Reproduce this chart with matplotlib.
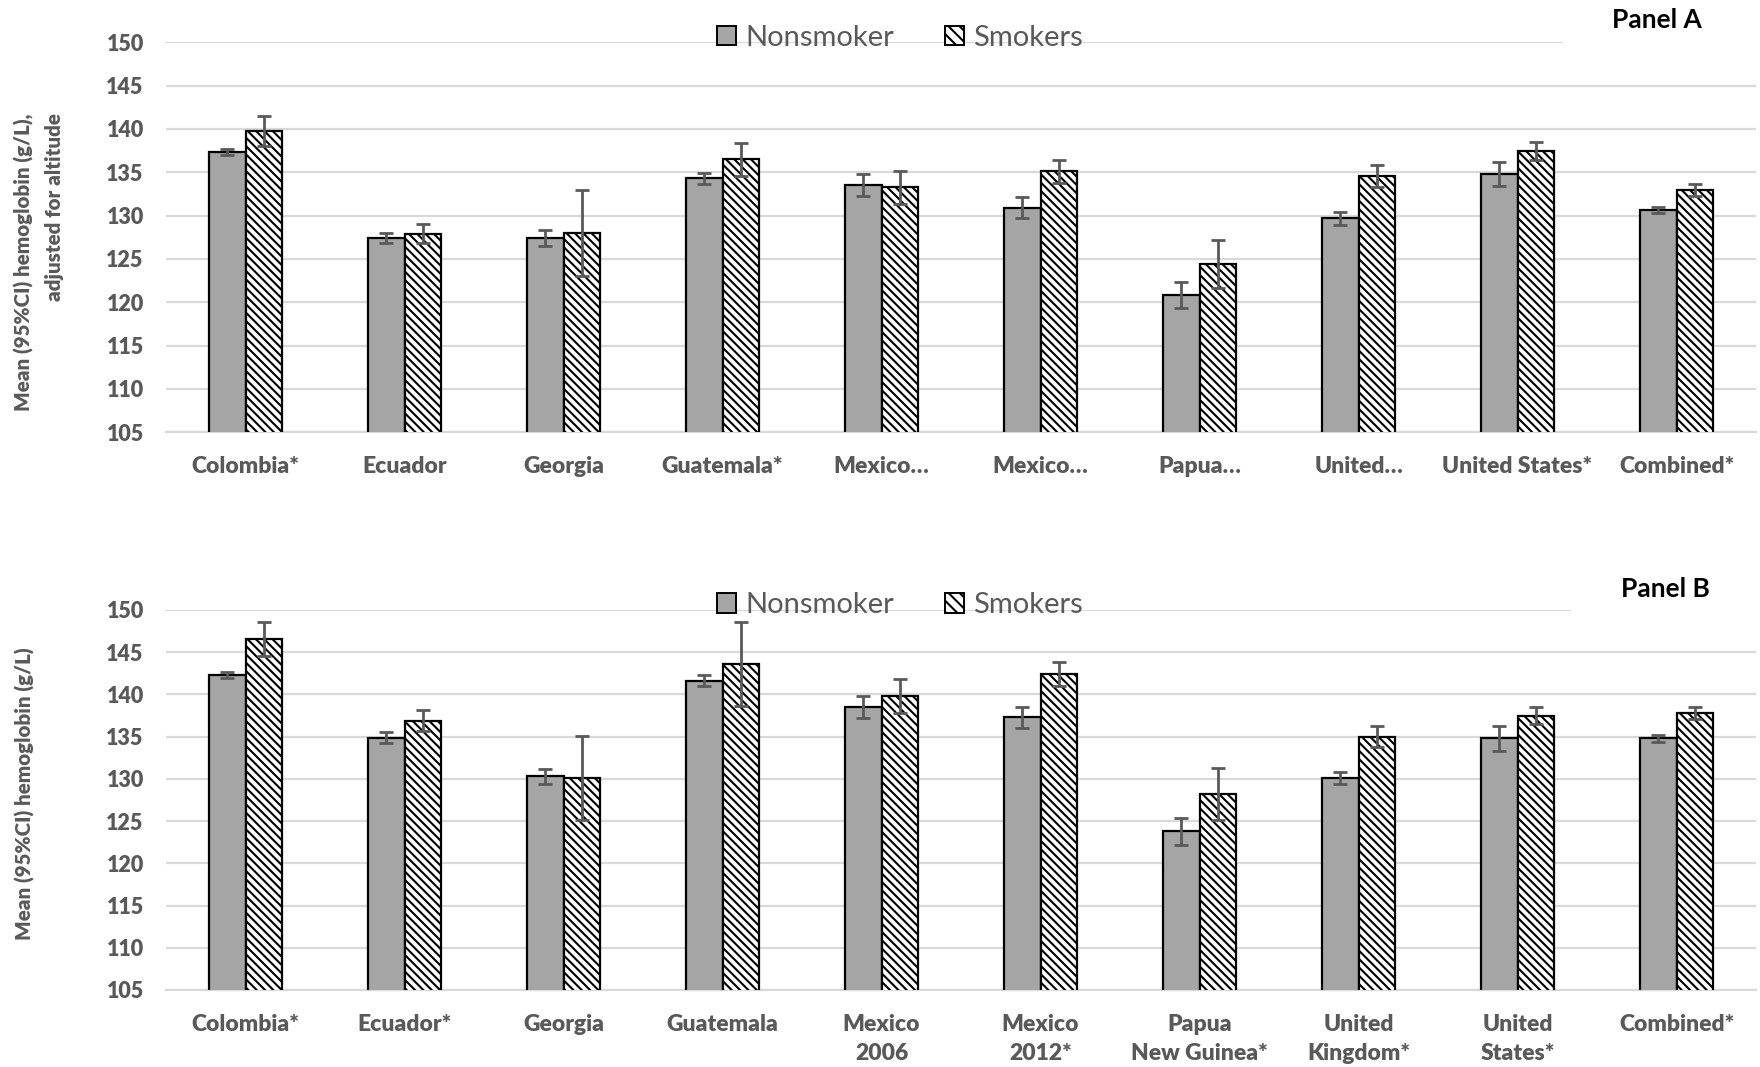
import numpy as np
import matplotlib.pyplot as plt
from matplotlib.patches import Patch, Rectangle

plt.rcParams['font.family'] = ['Lato', 'DejaVu Sans']
plt.rcParams['hatch.linewidth'] = 1.5

# Panel A: hemoglobin adjusted for altitude
labels_a = ['Colombia*', 'Ecuador', 'Georgia', 'Guatemala*', 'Mexico…', 'Mexico…',
            'Papua…', 'United…', 'United States*', 'Combined*']
nonsmoker_a = [137.3, 127.4, 127.4, 134.3, 133.5, 130.9, 120.8, 129.7, 134.8, 130.7]
nonsmoker_a_ci = [0.35, 0.55, 0.95, 0.6, 1.25, 1.2, 1.5, 0.75, 1.4, 0.35]
smokers_a = [139.8, 127.9, 128.0, 136.5, 133.3, 135.1, 124.4, 134.6, 137.5, 133.0]
smokers_a_ci = [1.75, 1.1, 5.0, 1.9, 1.9, 1.3, 2.75, 1.25, 1.05, 0.7]

# Panel B: hemoglobin not adjusted
labels_b = ['Colombia*', 'Ecuador*', 'Georgia', 'Guatemala', 'Mexico\n2006', 'Mexico\n2012*',
            'Papua\nNew Guinea*', 'United\nKingdom*', 'United\nStates*', 'Combined*']
nonsmoker_b = [142.3, 134.9, 130.3, 141.6, 138.5, 137.3, 123.8, 130.1, 134.8, 134.8]
nonsmoker_b_ci = [0.35, 0.65, 0.9, 0.65, 1.3, 1.25, 1.6, 0.75, 1.45, 0.4]
smokers_b = [146.6, 136.9, 130.1, 143.6, 139.8, 142.4, 128.2, 135.0, 137.5, 137.8]
smokers_b_ci = [2.0, 1.25, 5.0, 5.0, 2.05, 1.4, 3.05, 1.25, 1.05, 0.75]

GRAY_TXT = '#595959'
W, H = 1760, 1067

fig = plt.figure(figsize=(17.6, 10.67), dpi=100)


def draw_panel(rect, labels, ns, ns_ci, sm, sm_ci, ylabel, ylabel_xy, panel, panel_xy, box):
    ax = fig.add_axes(rect)
    x = np.arange(len(labels))
    w = 0.23
    ax.bar(x - w / 2, ns, w, color='#a5a5a5', edgecolor='black', linewidth=1.6,
           label='Nonsmoker', zorder=3)
    ax.bar(x + w / 2, sm, w, color='white', edgecolor='black', linewidth=1.6,
           hatch='\\\\\\\\', label='Smokers', zorder=3)
    ax.errorbar(x - w / 2, ns, yerr=ns_ci, fmt='none', ecolor=GRAY_TXT, elinewidth=2,
                capsize=5, capthick=2, zorder=4)
    ax.errorbar(x + w / 2, sm, yerr=sm_ci, fmt='none', ecolor=GRAY_TXT, elinewidth=2,
                capsize=5, capthick=2, zorder=4)
    ax.set_xlim(-0.5, len(labels) - 0.5)
    ax.set_ylim(105, 150)
    ax.set_yticks(np.arange(105, 151, 5))
    ax.grid(axis='y', color='#d9d9d9', linewidth=1.6, zorder=0)
    ax.set_axisbelow(True)
    for s in ['top', 'right', 'left']:
        ax.spines[s].set_visible(False)
    ax.spines['bottom'].set_color('#d9d9d9')
    ax.spines['bottom'].set_linewidth(1.6)
    ax.set_xticks(x)
    ax.set_xticklabels(labels, fontsize=16.5, fontweight='heavy', color=GRAY_TXT, linespacing=1.5)
    ax.tick_params(axis='x', length=0, pad=17)
    ax.tick_params(axis='y', length=0, pad=16, labelsize=15.5, labelcolor=GRAY_TXT)
    for t in ax.get_yticklabels():
        t.set_fontweight('heavy')

    handles = [Patch(facecolor='#a5a5a5', edgecolor='black', linewidth=1.4),
               Patch(facecolor='white', edgecolor='black', linewidth=1.4, hatch='\\\\\\')]
    leg = ax.legend(handles, ['Nonsmoker', 'Smokers'], loc='center', ncol=2,
                    bbox_to_anchor=(0.4616, 1.012), frameon=False, fontsize=21,
                    handlelength=0.65, handleheight=0.65, handletextpad=0.3,
                    columnspacing=1.75, borderpad=0)
    for t in leg.get_texts():
        t.set_color(GRAY_TXT)

    fig.patches.append(Rectangle((box[0] / W, box[1] / H), box[2] / W, box[3] / H,
                                 transform=fig.transFigure, facecolor='white',
                                 edgecolor='none', zorder=5))
    fig.text(panel_xy[0] / W, 1 - panel_xy[1] / H, panel, ha='center', va='center',
             fontsize=19, fontweight='bold', color='black', zorder=6)
    fig.text(ylabel_xy[0] / W, 1 - ylabel_xy[1] / H, ylabel, rotation=90, ha='center',
             va='center', multialignment='right', fontsize=14.8, fontweight='heavy',
             color=GRAY_TXT, linespacing=1.65)
    return ax


draw_panel([166 / W, 1 - 432.3 / H, 1590 / W, 390 / H], labels_a, nonsmoker_a, nonsmoker_a_ci,
           smokers_a, smokers_a_ci, 'Mean (95%CI) hemoglobin (g/L),\nadjusted for altitude',
           (39, 262), 'Panel A', (1657, 20), (1562, H - 60, 198, 60))
draw_panel([166 / W, 1 - 990 / H, 1590 / W, 380 / H], labels_b, nonsmoker_b, nonsmoker_b_ci,
           smokers_b, smokers_b_ci, 'Mean (95%CI) hemoglobin (g/L)',
           (25, 794), 'Panel B', (1665, 589), (1571, H - 625, 189, 60))

fig.savefig('out.png', dpi=100)
